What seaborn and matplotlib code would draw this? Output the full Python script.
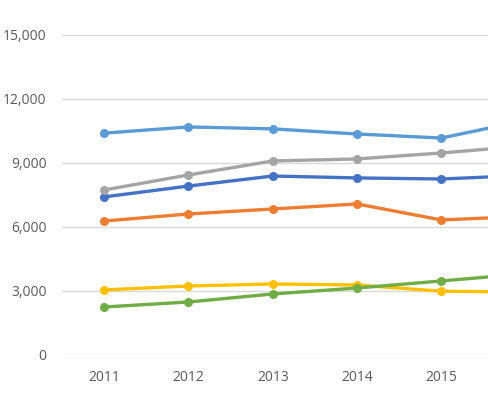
import numpy as np
import pandas as pd
import matplotlib
matplotlib.use("Agg")
import matplotlib.pyplot as plt
import seaborn as sns
from matplotlib.ticker import FuncFormatter

# ---------------------------------------------------------
# Data (2016 is only partly visible)
# ---------------------------------------------------------
years = [2011, 2012, 2013, 2014, 2015, 2016]
series_names = ["Series 1", "Series 2", "Series 3", "Series 4", "Series 5", "Series 6"]
series1 = [7410, 7920, 8390, 8300, 8250, 8420]
series2 = [6280, 6610, 6845, 7080, 6330, 6500]
series3 = [7735, 8440, 9095, 9190, 9470, 9800]
series4 = [3050, 3235, 3330, 3280, 2990, 2950]
series5 = [10400, 10690, 10600, 10360, 10170, 11000]
series6 = [2250, 2485, 2860, 3140, 3470, 3810]
colors = ["#4472C4", "#ED7D31", "#A5A5A5", "#FFC000", "#5B9BD5", "#70AD47"]

all_values = [series1, series2, series3, series4, series5, series6]
df = pd.DataFrame({
    "Year": years * len(series_names),
    "Series": [n for n in series_names for _ in years],
    "Value": [v for vals in all_values for v in vals],
})

# ---------------------------------------------------------
# Plot
# ---------------------------------------------------------
sns.set_style("white")
plt.rcParams["font.family"] = ["Open Sans", "DejaVu Sans"]

fig = plt.figure(figsize=(4.88, 3.96), dpi=100)
ax = fig.add_axes([62 / 488, 1 - 355 / 396, 1 - 62 / 488, (355 - 35) / 396])

sns.lineplot(data=df, x="Year", y="Value", hue="Series", hue_order=series_names,
             palette=colors, linewidth=2.4, marker="o", markersize=6.5,
             markeredgewidth=0, legend=False, ax=ax)

ax.set_xlim(2010.5, 2010.5 + (488 - 62) / 84.3)
ax.set_ylim(0, 15000)
ax.set_yticks([0, 3000, 6000, 9000, 12000, 15000])
ax.set_xticks(years[:5])
ax.yaxis.set_major_formatter(FuncFormatter(lambda v, p: f"{int(v):,}"))
ax.grid(axis="y", color="#D9D9D9", linewidth=1)
ax.set_axisbelow(True)
for s in ax.spines.values():
    s.set_visible(False)
ax.tick_params(axis="both", length=0, labelsize=10, colors="#595959")
ax.tick_params(axis="y", pad=11)
ax.tick_params(axis="x", pad=11)
ax.set_xlabel("")
ax.set_ylabel("")

fig.savefig("out.png", dpi=100)
plt.close()
